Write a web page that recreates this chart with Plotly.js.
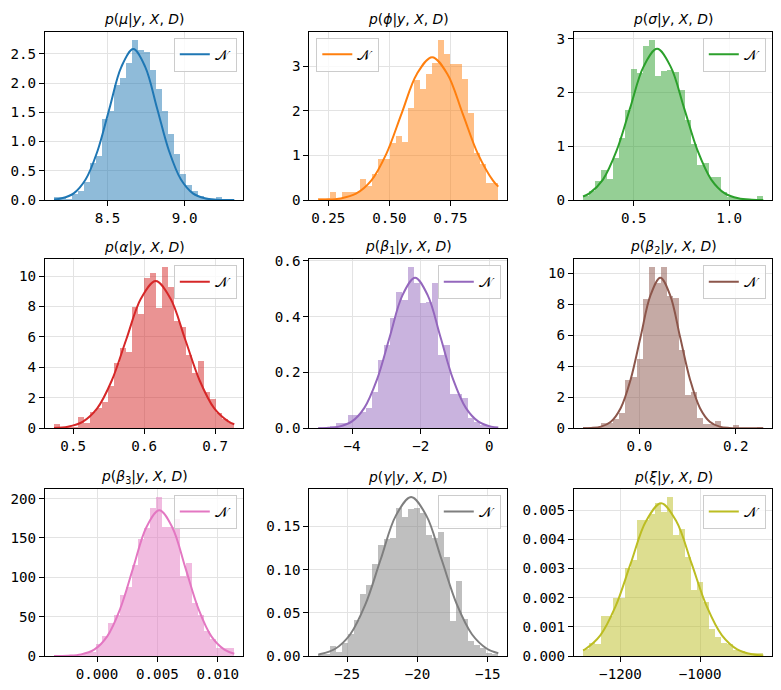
<!DOCTYPE html>
<html>
<head>
<meta charset="utf-8">
<script src="https://cdn.plot.ly/plotly-3.0.1.min.js"></script>
<style>
  html, body { margin: 0; padding: 0; background: #ffffff; }
  #chart { width: 781px; height: 690px; }
</style>
</head>
<body>
<div id="chart"></div>
<script>
// ---------------- DATA ----------------
const titles = [
  "<i>p</i>(<i>μ</i>|<i>y</i>, <i>X</i>, <i>D</i>)",
  "<i>p</i>(<i>ϕ</i>|<i>y</i>, <i>X</i>, <i>D</i>)",
  "<i>p</i>(<i>σ</i>|<i>y</i>, <i>X</i>, <i>D</i>)",
  "<i>p</i>(<i>α</i>|<i>y</i>, <i>X</i>, <i>D</i>)",
  "<i>p</i>(<i>β</i><sub>1</sub>|<i>y</i>, <i>X</i>, <i>D</i>)",
  "<i>p</i>(<i>β</i><sub>2</sub>|<i>y</i>, <i>X</i>, <i>D</i>)",
  "<i>p</i>(<i>β</i><sub>3</sub>|<i>y</i>, <i>X</i>, <i>D</i>)",
  "<i>p</i>(<i>γ</i>|<i>y</i>, <i>X</i>, <i>D</i>)",
  "<i>p</i>(<i>ξ</i>|<i>y</i>, <i>X</i>, <i>D</i>)"
];
const legendLabel = "𝒩";

// histogram range (min / max of samples), 30 bins each
const binLo = [8.153, 0.209, 0.2334, 0.473, -4.983, -0.117, -0.00356, -27.05, -1294];
const binHi = [9.322, 0.946, 1.179, 0.727, 0.26, 0.257, 0.01137, -14.25, -841.7];

// density of each bin
const binsMu = [0.045,0.045,0.02,0.1,0.15,0.31,0.64,0.76,1.39,1.53,1.96,2.08,2.34,2.74,2.57,2.53,2.22,1.89,1.53,1.12,0.78,0.45,0.25,0.16,0.06,0.03,0.02,0.045,0.02,0.02];
const binsPhi = [0.04,0.04,0.18,0.04,0.18,0.18,0.18,0.48,0.31,0.58,0.91,0.91,1.27,1.43,1.30,2.05,2.68,2.49,2.83,3.07,3.59,3.28,3.05,3.05,2.70,1.95,1.06,0.80,0.37,0.37];
const binsSigma = [0.07,0.17,0.35,0.56,0.39,0.78,1.15,1.67,2.44,2.36,2.86,2.98,2.31,2.39,2.42,2.38,2.04,1.49,1.04,0.65,0.68,0.43,0.43,0.15,0.06,0.03,0.02,0,0.02,0.07];
const binsAlpha = [0.26,0.11,0.11,0.11,0.72,0.37,1.09,1.3,1.75,2.78,4.27,5.25,5.03,7.94,7.5,9.85,10.2,7.9,10.57,9.26,7.07,6.63,4.8,3.6,4.42,2.4,1.9,0.98,0.59,0.37];
const binsBeta1 = [0.006,0.004,0.01,0.02,0.02,0.048,0.048,0.06,0.072,0.131,0.245,0.30,0.394,0.49,0.46,0.577,0.52,0.448,0.454,0.52,0.263,0.30,0.123,0.123,0.108,0.036,0.024,0.012,0.008,0.004];
const binsBeta2 = [0.06,0.06,0.06,0.37,0.37,0.58,0.97,3.12,3.33,4.47,8.34,10.39,9.35,10.39,8.56,8.39,5.05,2.15,2.32,0.65,0.28,0.28,0.47,0.06,0,0.21,0,0.03,0.03,0.06];
const binsBeta3 = [0.8,0.4,0.8,1.5,2.5,4,5.5,15,25,42,52,77,88,115,149,162,188,202,164,164,174,102,118,67,52,32,21,10,10,10];
const binsGamma = [0.0023,0.0023,0.0115,0.005,0.015,0.026,0.042,0.072,0.082,0.106,0.128,0.135,0.137,0.171,0.161,0.170,0.171,0.165,0.140,0.136,0.144,0.115,0.040,0.087,0.043,0.017,0.013,0.009,0.003,0.002];
const binsXi = [0.00024,0.00043,0.0004,0.00136,0.00136,0.0020,0.0020,0.0030,0.0033,0.00466,0.00466,0.00486,0.00523,0.00492,0.00545,0.00416,0.00435,0.00339,0.00225,0.00253,0.00185,0.00092,0.00064,0.00045,0.00041,0.0002,0.00017,0.00009,0.00009,0.00012];

// fitted normal curve
const curveXMu = [8.153,8.2032,8.2805,8.3578,8.4351,8.5124,8.5897,8.667,8.7443,8.8216,8.8989,8.9762,9.0535,9.1308,9.2081,9.2854,9.322];
const curveYMu = [0.0102,0.0286,0.113,0.349,0.838,1.565,2.277,2.58,2.277,1.565,0.838,0.349,0.113,0.0286,0.0057,0.00086,0.0003];
const curveXPhi = [0.209,0.2385,0.3009,0.3633,0.4256,0.4880,0.5503,0.6127,0.675,0.7374,0.7997,0.8621,0.9244,0.946];
const curveYPhi = [0.003,0.0070,0.0355,0.1405,0.433,1.039,1.941,2.824,3.2,2.824,1.941,1.039,0.433,0.30];
const curveXSigma = [0.2334,0.267,0.338,0.409,0.480,0.551,0.622,0.693,0.764,0.835,0.906,0.977,1.048,1.119,1.179];
const curveYSigma = [0.0664,0.1234,0.380,0.912,1.704,2.480,2.81,2.480,1.704,0.912,0.380,0.1234,0.0312,0.00615,0.0013];
const curveXAlpha = [0.473,0.4925,0.5132,0.5338,0.5544,0.5750,0.5957,0.6163,0.6369,0.6576,0.6782,0.6988,0.7195,0.727];
const curveYAlpha = [0.0233,0.107,0.4245,1.308,3.140,5.865,8.534,9.67,8.534,5.865,3.140,1.308,0.4245,0.264];
const curveXBeta1 = [-4.983,-4.750,-4.380,-4.011,-3.642,-3.272,-2.903,-2.533,-2.164,-1.795,-1.425,-1.056,-0.686,-0.317,0.052,0.26];
const curveYBeta1 = [0.00037,0.00118,0.0060,0.0237,0.0731,0.1753,0.3275,0.4766,0.54,0.4766,0.3275,0.1753,0.0731,0.0237,0.0060,0.0025];
const curveXBeta2 = [-0.117,-0.1002,-0.0797,-0.0592,-0.0387,-0.0182,0.0024,0.0229,0.0434,0.0639,0.0844,0.1050,0.1255,0.1460,0.1665,0.1870,0.2076,0.257];
const curveYBeta2 = [0.0047,0.0213,0.108,0.427,1.315,3.156,5.895,8.578,9.72,8.578,5.895,3.156,1.315,0.427,0.108,0.0213,0.0033,0.0001];
const curveXBeta3 = [-0.00356,-0.002390,-0.001311,-0.000233,0.000846,0.001925,0.003003,0.004082,0.00516,0.006239,0.007317,0.008396,0.009474,0.010553,0.01137];
const curveYBeta3 = [0.052,0.405,2.05,8.12,25.0,60.1,112.2,163.3,185,163.3,112.2,60.1,25.0,8.12,2.93];
const curveXGamma = [-27.05,-26.954,-25.87,-24.786,-23.702,-22.618,-21.534,-20.45,-19.366,-18.282,-17.198,-16.114,-15.03,-14.25];
const curveYGamma = [0.00179,0.00204,0.00808,0.0249,0.0597,0.1116,0.1624,0.184,0.1624,0.1116,0.0597,0.0249,0.00808,0.00308];
const curveXXi = [-1294,-1288.75,-1250.6,-1212.45,-1174.3,-1136.15,-1098,-1059.85,-1021.7,-983.55,-945.4,-907.25,-869.1,-841.7];
const curveYXi = [0.000193,0.0002296,0.000708,0.001698,0.003172,0.004615,0.00523,0.004615,0.003172,0.001698,0.000708,0.0002296,0.0000581,0.0000186];

// tick labels
const xTickVals = [[8.5,9.0],[0.25,0.5,0.75],[0.5,1.0],[0.5,0.6,0.7],[-4,-2,0],[0.0,0.2],[0.000,0.005,0.010],[-25,-20,-15],[-1200,-1000]];
const xTickText = [["8.5","9.0"],["0.25","0.50","0.75"],["0.5","1.0"],["0.5","0.6","0.7"],["−4","−2","0"],["0.0","0.2"],["0.000","0.005","0.010"],["−25","−20","−15"],["−1200","−1000"]];
const yTickVals = [[0,0.5,1,1.5,2,2.5],[0,1,2,3],[0,1,2,3],[0,2,4,6,8,10],[0,0.2,0.4,0.6],[0,2,4,6,8,10],[0,50,100,150,200],[0,0.05,0.10,0.15],[0,0.001,0.002,0.003,0.004,0.005]];
const yTickText = [["0.0","0.5","1.0","1.5","2.0","2.5"],["0","1","2","3"],["0","1","2","3"],["0","2","4","6","8","10"],["0.0","0.2","0.4","0.6"],["0","2","4","6","8","10"],["0","50","100","150","200"],["0.00","0.05","0.10","0.15"],["0.000","0.001","0.002","0.003","0.004","0.005"]];

const binHeights = [binsMu, binsPhi, binsSigma, binsAlpha, binsBeta1, binsBeta2, binsBeta3, binsGamma, binsXi];
const curveX = [curveXMu, curveXPhi, curveXSigma, curveXAlpha, curveXBeta1, curveXBeta2, curveXBeta3, curveXGamma, curveXXi];
const curveY = [curveYMu, curveYPhi, curveYSigma, curveYAlpha, curveYBeta1, curveYBeta2, curveYBeta3, curveYGamma, curveYXi];

// ---------------- STYLE / LAYOUT ----------------
const colors = ["#1f77b4","#ff7f0e","#2ca02c","#d62728","#9467bd","#8c564b","#e377c2","#7f7f7f","#bcbd22"];
const W = 781, H = 690;
const colL = [45, 309.3, 574], colR = [243.3, 507.3, 772.3];
const rowT = [31.7, 259.3, 489], rowB = [200, 428.3, 656];
const legendLeft = [false, true, false, false, false, false, false, false, false];

function hexToRgba(hex, a) {
  const r = parseInt(hex.slice(1,3),16), g = parseInt(hex.slice(3,5),16), b = parseInt(hex.slice(5,7),16);
  return `rgba(${r},${g},${b},${a})`;
}

const traces = [];
const layout = {
  width: W, height: H,
  margin: {l:0, r:0, t:0, b:0},
  paper_bgcolor: "#ffffff", plot_bgcolor: "#ffffff",
  showlegend: true,
  bargap: 0,
  barmode: "overlay",
  annotations: [],
  font: {family: "DejaVu Sans", color: "#000000"}
};

for (let i = 0; i < 9; i++) {
  const r = Math.floor(i / 3), c = i % 3;
  const sfx = i === 0 ? "" : String(i + 1);
  const xa = "x" + sfx, ya = "y" + sfx;
  const lg = "legend" + sfx;
  const n = binHeights[i].length;
  const w = (binHi[i] - binLo[i]) / n;
  const centers = binHeights[i].map((_, k) => binLo[i] + (k + 0.5) * w);

  traces.push({
    type: "bar", x: centers, y: binHeights[i], width: w,
    xaxis: xa, yaxis: ya,
    marker: {color: hexToRgba(colors[i], 0.5), line: {width: 0}},
    showlegend: false, hoverinfo: "skip"
  });
  traces.push({
    type: "scatter", mode: "lines", x: curveX[i], y: curveY[i],
    xaxis: xa, yaxis: ya,
    line: {color: colors[i], width: 2, shape: "spline", smoothing: 1},
    name: legendLabel, legend: lg, showlegend: true
  });

  const span = binHi[i] - binLo[i];
  const ymax = 1.05 * Math.max(Math.max(...binHeights[i]), Math.max(...curveY[i]));
  const axCommon = {
    showline: true, mirror: true, linecolor: "#000000", linewidth: 1,
    ticks: "outside", ticklen: 5, tickwidth: 1, tickcolor: "#000000",
    showgrid: true, gridcolor: "#e3e3e3", gridwidth: 1,
    zeroline: false, tickmode: "array",
    tickfont: {family: "DejaVu Sans Mono", size: 14.2, color: "#000000"}
  };
  layout["xaxis" + sfx] = Object.assign({}, axCommon, {
    domain: [colL[c] / W, colR[c] / W],
    anchor: ya,
    range: [binLo[i] - 0.05 * span, binHi[i] + 0.05 * span],
    tickvals: xTickVals[i], ticktext: xTickText[i]
  });
  layout["yaxis" + sfx] = Object.assign({}, axCommon, {
    domain: [1 - rowB[r] / H, 1 - rowT[r] / H],
    anchor: xa,
    range: [0, ymax],
    tickvals: yTickVals[i], ticktext: yTickText[i]
  });

  layout[lg] = {
    x: legendLeft[i] ? (colL[c] + 7) / W : (colR[c] - 6.5) / W,
    xanchor: legendLeft[i] ? "left" : "right",
    y: 1 - (rowT[r] + 6) / H, yanchor: "top",
    bgcolor: "rgba(255,255,255,0.8)", bordercolor: "#cccccc", borderwidth: 1,
    font: {family: "DejaVu Sans", size: 13.9, color: "#000000"}
  };

  layout.annotations.push({
    xref: "paper", yref: "paper",
    x: (colL[c] + colR[c]) / 2 / W, xanchor: "center",
    y: 1 - (rowT[r] - 12) / H, yanchor: "middle",
    text: titles[i], showarrow: false,
    font: {family: "DejaVu Sans", size: 13.9, color: "#000000"}
  });
}

Plotly.newPlot("chart", traces, layout, {staticPlot: true, displayModeBar: false});
</script>
</body>
</html>
